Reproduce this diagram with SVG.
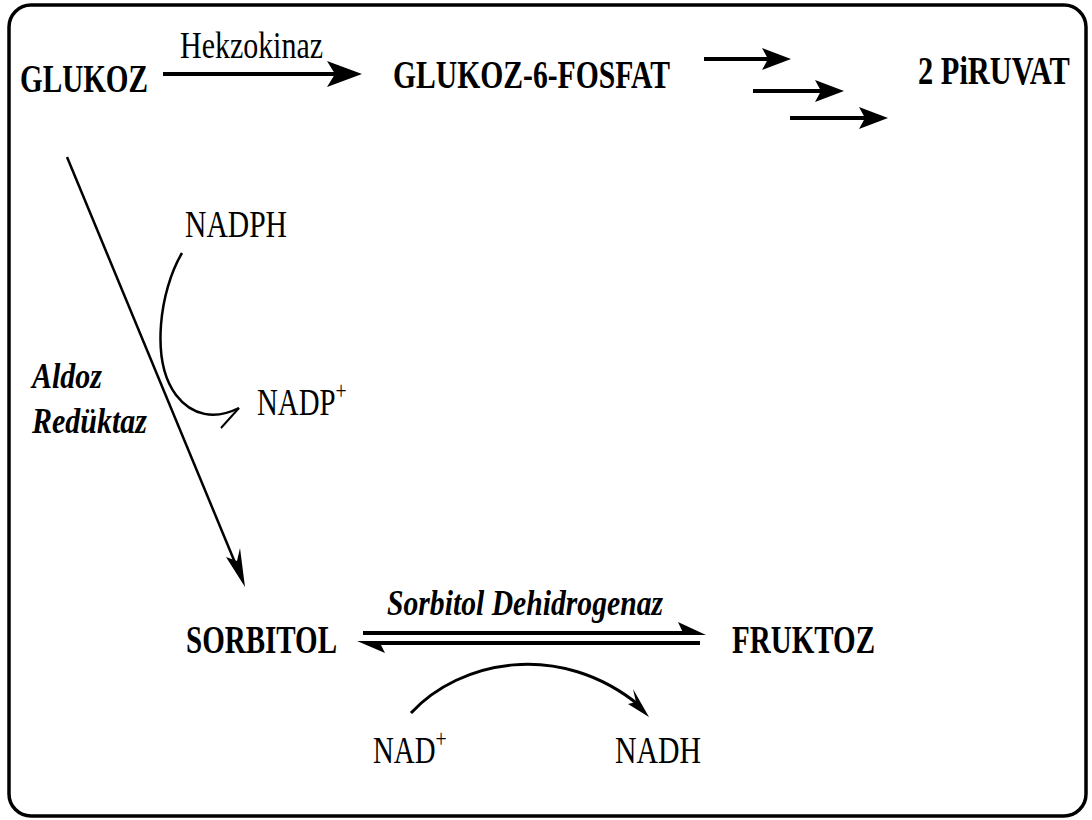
<svg xmlns="http://www.w3.org/2000/svg" width="1092" height="820" viewBox="0 0 1092 820">
<style>
.t{font-family:"Liberation Serif","Times New Roman",serif;font-size:38px;fill:#000}
.b{font-weight:bold;font-size:39px}
.bi{font-weight:bold;font-style:italic;font-size:36px}
.sup{font-size:26px}
.ln{stroke:#000;fill:none}
.ah{fill:#000;stroke:none}
</style>
<rect x="9" y="5" width="1077" height="811" rx="22" ry="22" fill="#fff" stroke="#000" stroke-width="3.5"/>
<g id="glukoz"><text class="t b" x="20" y="92" textLength="128" lengthAdjust="spacingAndGlyphs">GLUKOZ</text></g>
<g id="g6p"><text class="t b" x="393" y="88" textLength="277" lengthAdjust="spacingAndGlyphs">GLUKOZ-6-FOSFAT</text></g>
<g id="piruvat"><text class="t b" transform="matrix(0.78,0,0,1,918,84)" x="0" y="0">2 PiRUVAT</text></g>
<g id="sorbitol"><text class="t b" x="186" y="653" textLength="151" lengthAdjust="spacingAndGlyphs">SORBITOL</text></g>
<g id="fruktoz"><text class="t b" x="732" y="653" textLength="143" lengthAdjust="spacingAndGlyphs">FRUKTOZ</text></g>
<g id="nadph"><text class="t" x="185" y="237" textLength="102" lengthAdjust="spacingAndGlyphs">NADPH</text></g>
<g id="nadp"><text class="t" transform="matrix(0.76,0,0,1,257,415)" x="0" y="0">NADP<tspan class="sup" dy="-16">+</tspan></text></g>
<g id="nad"><text class="t" transform="matrix(0.76,0,0,1,373,763)" x="0" y="0">NAD<tspan class="sup" dy="-16">+</tspan></text></g>
<g id="nadh"><text class="t" x="615" y="763" textLength="86" lengthAdjust="spacingAndGlyphs">NADH</text></g>
<g id="labels">
<text class="t" x="180" y="58" textLength="143" lengthAdjust="spacingAndGlyphs">Hekzokinaz</text>
<text class="t bi" x="32" y="388" textLength="70" lengthAdjust="spacingAndGlyphs">Aldoz</text>
<text class="t bi" x="32" y="433" textLength="115" lengthAdjust="spacingAndGlyphs">Redüktaz</text>
<text class="t bi" x="387" y="615" textLength="276" lengthAdjust="spacingAndGlyphs">Sorbitol Dehidrogenaz</text>
</g>
<g id="connectors">
<line class="ln" x1="163" y1="74" x2="335" y2="74" stroke-width="4"/>
<polygon class="ah" points="362,74 327,61 335,74 327,87"/>
<line class="ln" x1="704" y1="59" x2="770" y2="59" stroke-width="4"/>
<polygon class="ah" points="791,59 762,48 768,59 762,70"/>
<line class="ln" x1="753" y1="91" x2="822" y2="91" stroke-width="4"/>
<polygon class="ah" points="844,91 815,80 821,91 815,102"/>
<line class="ln" x1="790" y1="118" x2="866" y2="118" stroke-width="4"/>
<polygon class="ah" points="888,118 859,107 865,118 859,129"/>
<line class="ln" x1="67" y1="157" x2="236" y2="565" stroke-width="2.5"/>
<polygon class="ah" points="245,587 226,557 237,561 240,548"/>
<path class="ln" d="M182,253 C160,290 150,360 176,395 C192,416 215,420 239,408" stroke-width="2.5"/>
<line class="ln" x1="239" y1="408" x2="221" y2="428" stroke-width="2"/>
<line class="ln" x1="363" y1="633" x2="690" y2="633" stroke-width="4"/>
<polygon class="ah" points="706,635 678,622 684,635"/>
<line class="ln" x1="372" y1="643" x2="700" y2="643" stroke-width="4"/>
<polygon class="ah" points="357,641 385,653 379,641"/>
<path class="ln" d="M411,713 C460,660 560,640 640,706" stroke-width="3"/>
<polygon class="ah" points="649,717 633,689 636,702 628,704"/>
</g>
</svg>
